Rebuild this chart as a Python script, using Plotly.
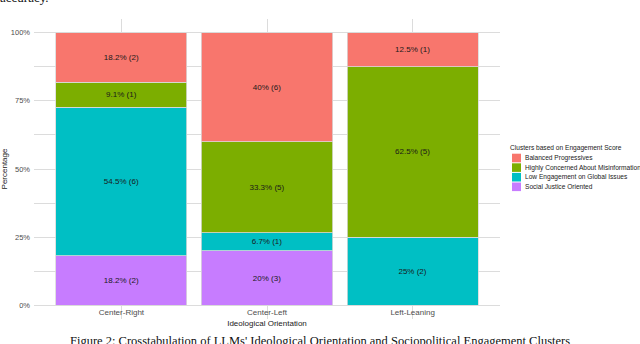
import plotly.graph_objects as go

orientations = ['Center-Right', 'Center-Left', 'Left-Leaning']
clusters = ['Balanced Progressives', 'Highly Concerned About Misinformation',
            'Low Engagement on Global Issues', 'Social Justice Oriented']
colors = ['#F8766D', '#7CAE00', '#00BFC4', '#C77CFF']

# counts per cluster, in order of orientations
counts = {
    'Balanced Progressives': [2, 6, 1],
    'Highly Concerned About Misinformation': [1, 5, 5],
    'Low Engagement on Global Issues': [6, 1, 2],
    'Social Justice Oriented': [2, 3, 0],
}

totals = [sum(counts[c][i] for c in clusters) for i in range(len(orientations))]

FONT = 'Liberation Sans'

fig = go.Figure()

# stack bottom-up: last cluster at the bottom
for name, col in reversed(list(zip(clusters, colors))):
    pct = [100 * n / t for n, t in zip(counts[name], totals)]
    labels = [f'{round(p, 1):g}% ({n})' if n > 0 else '' for p, n in zip(pct, counts[name])]
    fig.add_trace(go.Bar(
        x=orientations, y=pct, name=name, text=labels,
        textposition='inside', insidetextanchor='middle', textangle=0,
        textfont=dict(family=FONT, size=8, color='#1a1a1a'),
        marker=dict(color=col, line=dict(color='#dadada', width=0.8)),
        width=0.9, showlegend=False,
    ))

# plot area in pixels
L, R, T, B = 34, 500, 19, 319
W, H = 640, 344


def px(x):
    return (x - L) / (R - L)


def py(y):
    return (B - y) / (B - T)


fig.update_layout(
    width=W, height=H,
    barmode='stack', bargap=0.1,
    plot_bgcolor='white', paper_bgcolor='white',
    margin=dict(l=L, r=W - R, t=T, b=H - B, autoexpand=False),
    font=dict(family=FONT, size=8, color='#4d4d4d'),
    uniformtext=dict(mode='show', minsize=8),
)

fig.update_xaxes(
    range=[-0.6, 2.6], showgrid=True, gridcolor='#dcdcdc', gridwidth=1,
    showline=False, zeroline=False, ticks='', ticklabelposition='inside',
    ticklabelstandoff=-1, automargin=False,
    tickfont=dict(size=8, color='#4d4d4d'),
    title=dict(text='Ideological Orientation', font=dict(size=8, color='#1a1a1a'), standoff=3),
)
fig.update_yaxes(
    range=[-5, 105], tickvals=[0, 25, 50, 75, 100],
    ticktext=['0%', '25%', '50%', '75%', '100%'],
    showgrid=True, gridcolor='#dcdcdc', gridwidth=1,
    minor=dict(tickvals=[12.5, 37.5, 62.5, 87.5], showgrid=True, gridcolor='#dcdcdc', gridwidth=1),
    zeroline=True, zerolinecolor='#dcdcdc', zerolinewidth=1,
    showline=False, ticks='', ticklabelstandoff=3, automargin=False,
    tickfont=dict(size=7.5, color='#4d4d4d'),
    title=dict(text='Percentage', font=dict(size=8, color='#1a1a1a'), standoff=6),
)

# legend drawn by hand to keep the compact ggplot spacing
fig.add_annotation(x=px(508), y=py(148), xref='paper', yref='paper',
                   text='Clusters based on Engagement Score', showarrow=False,
                   xanchor='left', yanchor='middle',
                   font=dict(size=6.6, color='#1a1a1a'))
for i, (name, col) in enumerate(zip(clusters, colors)):
    yc = 158 + i * 9.6
    fig.add_shape(type='rect', xref='paper', yref='paper',
                  x0=px(512), x1=px(521), y0=py(yc - 4.3), y1=py(yc + 4.3),
                  fillcolor=col, line=dict(width=0))
    fig.add_annotation(x=px(523), y=py(yc), xref='paper', yref='paper',
                       text=name, showarrow=False, xanchor='left', yanchor='middle',
                       font=dict(size=6.6, color='#1a1a1a'))

# surrounding page text
fig.add_annotation(x=px(-2), y=py(-3), xref='paper', yref='paper',
                   text='accuracy.', showarrow=False, xanchor='left', yanchor='middle',
                   font=dict(family='Liberation Serif', size=13, color='#111111'))
fig.add_annotation(x=px(320), y=py(341), xref='paper', yref='paper',
                   text="Figure 2: Crosstabulation of LLMs' Ideological Orientation and Sociopolitical Engagement Clusters",
                   showarrow=False, xanchor='center', yanchor='middle',
                   font=dict(family='Liberation Serif', size=12.5, color='#111111'))

# page has an 8px body margin by default; drop it so the figure sits at 0,0
fig.write_html('out.html', config={'displayModeBar': False},
               post_script="document.body.style.margin='0';")
